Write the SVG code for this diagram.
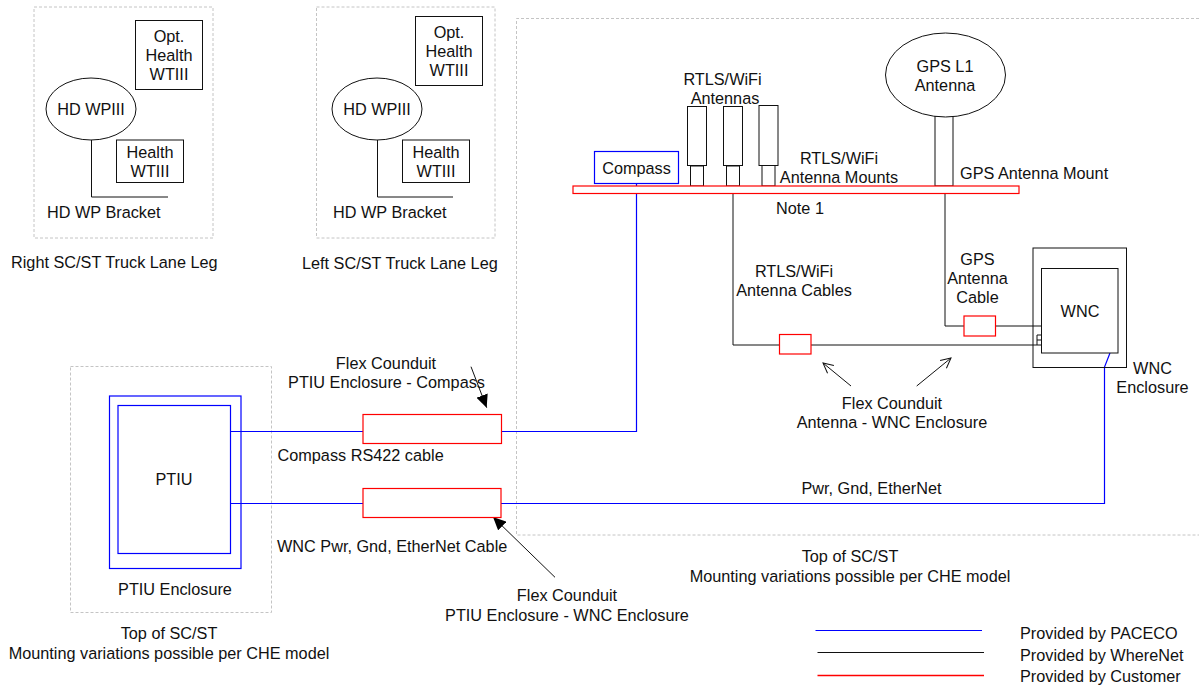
<svg xmlns="http://www.w3.org/2000/svg" width="1199" height="690" viewBox="0 0 1199 690">
<style>
text{font-family:"Liberation Sans",Arial,sans-serif;font-size:16.25px;fill:#111;transform:translateY(.6px)}
.c{text-anchor:middle}
.k{fill:#fff;stroke:#111;stroke-width:1}
.b{fill:#fff;stroke:#0000ff;stroke-width:1.2}
.r{fill:#fff;stroke:#ff0000;stroke-width:1.2}
.d{fill:none;stroke:#c4c4c4;stroke-width:1;stroke-dasharray:3 2}
.lk{fill:none;stroke:#111;stroke-width:1}
.lb{fill:none;stroke:#0000ff;stroke-width:1.2}
.lr{fill:none;stroke:#ff0000;stroke-width:1.500}
</style>
<defs>
<marker id="filled" markerUnits="userSpaceOnUse" markerWidth="14" markerHeight="12" refX="13" refY="6" orient="auto"><path d="M0 0L13 6L0 12Z" fill="#000"/></marker>
<marker id="open" markerUnits="userSpaceOnUse" markerWidth="12" markerHeight="12" refX="11" refY="6" orient="auto"><path d="M1 1L11 6L1 11" fill="none" stroke="#111" stroke-width="1"/></marker>
</defs>

<g id="zones">
<rect class="d" x="34" y="7" width="179" height="231"/>
<rect class="d" x="316.500" y="7" width="178.500" height="231"/>
<path class="d" d="M1199 18.500H516.500V535H1199"/>
<rect class="d" x="70.500" y="366.500" width="201" height="246"/>
</g>

<g id="connectors">
<path class="lk" d="M91.500 140V197H168"/>
<path class="lk" d="M377.500 140V197H453"/>
<path class="lk" d="M733 193.500V345H1041.500"/>
<path class="lk" d="M945 193.500V326H1041.500"/>
<path class="lk" d="M1041 335H1037V345M1037 340H1041"/>
<path class="lb" d="M636.500 184V431.500H230.500"/>
<path class="lb" d="M230.500 503.500H1104.500V367L1110 353"/>
<path class="lk" d="M471 366.700L486.700 407.700" marker-end="url(#filled)"/>
<path class="lk" d="M555 577.300L493 517" marker-end="url(#filled)"/>
<path class="lk" d="M851 386L823 363" marker-end="url(#open)"/>
<path class="lk" d="M916.700 386L951 358" marker-end="url(#open)"/>
</g>

<g id="right-leg-ellipse"><ellipse class="k" cx="91" cy="109" rx="45" ry="31"/><text class="c" x="91" y="114">HD WPIII</text></g>
<g id="right-leg-opt"><rect class="k" x="135.500" y="20.500" width="67" height="69"/><text class="c" x="169" y="41">Opt.</text><text class="c" x="169" y="60">Health</text><text class="c" x="169" y="79">WTIII</text></g>
<g id="right-leg-health"><rect class="k" x="116.500" y="140" width="67" height="42.500"/><text class="c" x="150" y="157">Health</text><text class="c" x="150" y="176">WTIII</text></g>
<g id="right-leg-labels"><text x="47" y="217">HD WP Bracket</text><text x="11" y="267">Right SC/ST Truck Lane Leg</text></g>

<g id="left-leg-ellipse"><ellipse class="k" cx="377" cy="109" rx="45" ry="31"/><text class="c" x="377" y="114">HD WPIII</text></g>
<g id="left-leg-opt"><rect class="k" x="415.500" y="16.500" width="67" height="69"/><text class="c" x="449" y="37">Opt.</text><text class="c" x="449" y="56">Health</text><text class="c" x="449" y="75">WTIII</text></g>
<g id="left-leg-health"><rect class="k" x="402.500" y="140" width="67" height="42.500"/><text class="c" x="436" y="157">Health</text><text class="c" x="436" y="176">WTIII</text></g>
<g id="left-leg-labels"><text x="333" y="217">HD WP Bracket</text><text x="302" y="268.500">Left SC/ST Truck Lane Leg</text></g>

<g id="compass"><rect class="b" x="594.500" y="151.500" width="84" height="32"/><text class="c" x="636.500" y="173">Compass</text></g>
<g id="antenna-1"><rect class="k" x="687.500" y="106.500" width="19" height="59"/><rect class="k" x="690.500" y="166" width="13" height="20"/></g>
<g id="antenna-2"><rect class="k" x="723.500" y="106.500" width="19" height="59"/><rect class="k" x="726.500" y="166" width="13" height="20"/></g>
<g id="antenna-3"><rect class="k" x="759" y="105.500" width="19" height="60"/><rect class="k" x="762" y="165.500" width="13" height="20.500"/></g>
<g id="gps-antenna"><rect class="k" x="935" y="116" width="18" height="70"/><ellipse class="k" cx="945.500" cy="75" rx="60" ry="42"/><text class="c" x="945" y="71">GPS L1</text><text class="c" x="945" y="90">Antenna</text></g>
<g id="mount-bar"><rect class="r" x="573" y="186" width="446" height="7.500"/></g>

<g id="wnc-enclosure"><rect x="1033" y="248" width="93.500" height="119.500" fill="none" stroke="#111"/><text class="c" x="1152.500" y="373">WNC</text><text class="c" x="1152.500" y="392">Enclosure</text></g>
<g id="wnc"><rect class="k" x="1041.500" y="268.500" width="76.500" height="84.500"/><text class="c" x="1080" y="316">WNC</text></g>
<g id="gps-conduit"><rect class="r" x="964" y="316" width="31.500" height="20"/></g>
<g id="rtls-conduit"><rect class="r" x="779.500" y="334.500" width="31.500" height="19.500"/></g>

<g id="ptiu-enclosure"><rect x="109.500" y="396" width="131.500" height="172.500" fill="none" stroke="#0000ff" stroke-width="1.200"/><text class="c" x="175" y="594">PTIU Enclosure</text></g>
<g id="ptiu"><rect class="b" x="118" y="405.500" width="112.500" height="148"/><text class="c" x="174" y="484">PTIU</text></g>
<g id="conduit-compass"><rect class="r" x="363" y="414.500" width="138.500" height="29"/></g>
<g id="conduit-wnc"><rect class="r" x="363" y="488.500" width="138" height="29"/></g>

<g id="labels">
<text class="c" x="722.500" y="84">RTLS/WiFi</text><text class="c" x="725" y="103">Antennas</text>
<text class="c" x="839" y="163">RTLS/WiFi</text><text class="c" x="839" y="182">Antenna Mounts</text>
<text class="c" x="800" y="213">Note 1</text>
<text x="960" y="178">GPS Antenna Mount</text>
<text class="c" x="794" y="276">RTLS/WiFi</text><text class="c" x="794" y="295">Antenna Cables</text>
<text class="c" x="977.500" y="264">GPS</text><text class="c" x="977.500" y="283.500">Antenna</text><text class="c" x="977.500" y="302">Cable</text>
<text class="c" x="892" y="408">Flex Counduit</text><text class="c" x="892" y="427">Antenna - WNC Enclosure</text>
<text class="c" x="386" y="368">Flex Counduit</text><text class="c" x="386.500" y="387">PTIU Enclosure - Compass</text>
<text x="277.500" y="460">Compass RS422 cable</text>
<text x="277" y="551">WNC Pwr, Gnd, EtherNet Cable</text>
<text x="801.500" y="493">Pwr, Gnd, EtherNet</text>
<text class="c" x="567" y="600.500">Flex Counduit</text><text class="c" x="567" y="620">PTIU Enclosure - WNC Enclosure</text>
<text class="c" x="169" y="638">Top of SC/ST</text><text class="c" x="169" y="658">Mounting variations possible per CHE model</text>
<text class="c" x="850" y="561">Top of SC/ST</text><text class="c" x="850" y="581">Mounting variations possible per CHE model</text>
</g>

<g id="legend">
<path class="lb" d="M815.500 630.500H982"/>
<path class="lk" d="M817.500 652.500H984"/>
<path class="lr" d="M817.500 675.500H984"/>
<text x="1020" y="638">Provided by PACECO</text>
<text x="1020" y="660">Provided by WhereNet</text>
<text x="1020" y="681">Provided by Customer</text>
</g>
</svg>
